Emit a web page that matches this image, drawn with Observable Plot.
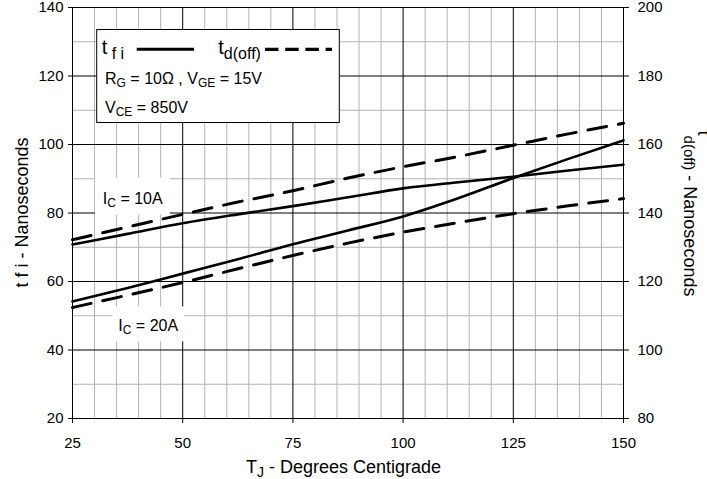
<!DOCTYPE html>
<html>
<head>
<meta charset="utf-8">
<script src="https://cdn.jsdelivr.net/npm/d3@7"></script>
<script src="https://cdn.jsdelivr.net/npm/@observablehq/plot@0.6"></script>
<style>
  html, body { margin: 0; padding: 0; background: #fff; }
  svg text { white-space: pre; }
</style>
</head>
<body>
<div id="chart"></div>
<script>
// ---- data ----
const temps = [25, 37.5, 50, 62.5, 75, 87.5, 100, 112.5, 125, 137.5, 150];
// t_fi (left axis, ns)
const tfi10 = [70.8, 73.9, 77.0, 79.6, 82.0, 84.6, 87.2, 89.0, 90.6, 92.4, 94.1];
const tfi20 = [54.2, 58.1, 62.3, 66.5, 70.9, 74.9, 79.0, 84.3, 90.2, 95.8, 101.2];
// t_d(off) (right axis, ns)
const td10 = [132.2, 135.9, 139.6, 143.2, 146.5, 150.2, 153.5, 156.5, 159.8, 163.1, 166.2];
const td20 = [112.4, 116.0, 119.7, 123.7, 127.6, 131.2, 134.4, 137.2, 139.8, 142.1, 144.2];

const xTicks = [25, 50, 75, 100, 125, 150];
const leftTicks = [20, 40, 60, 80, 100, 120, 140];
const rightTicks = [80, 100, 120, 140, 160, 180, 200];
const rightOffset = 60; // right axis value = left axis value + 60

const xLabel = [{t: "T"}, {t: "J", sub: true}, {t: " - Degrees Centigrade"}];
const yLabelLeft = "t f i - Nanoseconds";
const yLabelRight = [{t: "t"}, {t: "d(off)", sub: true}, {t: " - Nanoseconds", keep: true}];
const legendRow1a = [{t: "t"}, {t: " f i", sub: true}];
const legendRow1b = [{t: "t"}, {t: "d(off)", sub: true}];
const legendRow2 = [{t: "R"}, {t: "G", sub: true}, {t: " = 10Ω , V"}, {t: "GE", sub: true}, {t: " = 15V"}];
const legendRow3 = [{t: "V"}, {t: "CE", sub: true}, {t: " = 850V"}];
const labelIc10 = {T: 32.0, v: 82.6, parts: [{t: "I"}, {t: "C", sub: true}, {t: " = 10A"}]};
const labelIc20 = {T: 35.5, v: 45.3, parts: [{t: "I"}, {t: "C", sub: true}, {t: " = 20A"}]};

// ---- build table ----
const series = [
  {key: "tfi10", values: tfi10, axis: "left"},
  {key: "tfi20", values: tfi20, axis: "left"},
  {key: "td10", values: td10, axis: "right"},
  {key: "td20", values: td20, axis: "right"}
];
const rows = series.flatMap(s => temps.map((T, i) => ({
  T, key: s.key, dashed: s.axis === "right",
  v: s.axis === "left" ? s.values[i] : s.values[i] - rightOffset
})));

const minorX = d3.range(25, 151, 5).filter(d => !xTicks.includes(d));
const minorY = d3.range(20, 141, 10).filter(d => !leftTicks.includes(d));

const FONT = "'Liberation Sans', Arial, Helvetica, sans-serif";

const fig = Plot.plot({
  width: 707,
  height: 479,
  marginLeft: 72,
  marginRight: 84,
  marginTop: 7,
  marginBottom: 61,
  style: {fontFamily: FONT, fontSize: "15px", color: "#000", background: "#fff"},
  x: {domain: [25, 150], axis: null},
  y: {domain: [20, 140], axis: null},
  marks: [
    Plot.ruleX(minorX, {stroke: "#b3b3b3", strokeWidth: 1}),
    Plot.ruleY(minorY, {stroke: "#b3b3b3", strokeWidth: 1}),
    Plot.ruleX(xTicks, {stroke: "#000", strokeWidth: 1}),
    Plot.ruleY(leftTicks, {stroke: "#000", strokeWidth: 1}),
    Plot.line(rows.filter(d => !d.dashed), {x: "T", y: "v", z: "key", stroke: "#000", strokeWidth: 2.6, curve: "monotone-x"}),
    Plot.line(rows.filter(d => d.dashed), {x: "T", y: "v", z: "key", stroke: "#000", strokeWidth: 3, strokeDasharray: "19,12", curve: "monotone-x"}),
    Plot.axisX(xTicks, {anchor: "bottom", tickSize: 5, tickPadding: 14, fontSize: 15, label: null}),
    Plot.axisY(leftTicks, {anchor: "left", tickSize: 4, tickPadding: 5, fontSize: 15, label: null}),
    Plot.axisY(rightTicks.map(d => d - rightOffset), {anchor: "right", tickSize: 5, tickPadding: 9, fontSize: 15, label: null, tickFormat: d => String(d + rightOffset)})
  ]
});

document.getElementById("chart").appendChild(fig);

// ---- annotations positioned through the plot's scales ----
const sx = fig.scale("x"), sy = fig.scale("y");
const X = v => sx.apply(v), Y = v => sy.apply(v);
const x0 = X(25), x1 = X(150), y0 = Y(140), y1 = Y(20);
const svg = d3.select(fig);
const g = svg.append("g").attr("font-family", FONT).attr("fill", "#000").attr("text-anchor", "start");

function rich(parent, parts, size, subSize, shift) {
  const t = parent.append("text").attr("font-size", size).attr("text-anchor", "start");
  let cur = 0;
  for (const p of parts) {
    const s = t.append("tspan").text(p.t);
    const target = p.sub ? shift : (p.keep ? cur : 0);
    if (target !== cur) { s.attr("dy", target - cur); cur = target; }
    s.attr("font-size", p.sub ? subSize : size);
  }
  return t;
}

// legend box
const lb = {x: x0 + 24.7, y: y0 + 22.5, w: 242.6, h: 93};
g.append("rect").attr("x", lb.x).attr("y", lb.y).attr("width", lb.w).attr("height", lb.h)
  .attr("fill", "#fff").attr("stroke", "#000").attr("stroke-width", 1);
rich(g, legendRow1a, 20, 16, 5).attr("x", x0 + 29.7).attr("y", y0 + 46.5);
g.append("line").attr("x1", x0 + 64.7).attr("x2", x0 + 122).attr("y1", y0 + 42.3).attr("y2", y0 + 42.3)
  .attr("stroke", "#000").attr("stroke-width", 3);
rich(g, legendRow1b, 20, 16, 5).attr("x", x0 + 146.3).attr("y", y0 + 46.5);
g.append("line").attr("x1", x0 + 193).attr("x2", x0 + 260).attr("y1", y0 + 42.3).attr("y2", y0 + 42.3)
  .attr("stroke", "#000").attr("stroke-width", 3.2).attr("stroke-dasharray", "13.5,6.7");
rich(g, legendRow2, 16, 12, 3).attr("x", x0 + 33).attr("y", y0 + 76.8);
rich(g, legendRow3, 16, 12, 3).attr("x", x0 + 33).attr("y", y0 + 106);

// I_C labels with white background
for (const [lab, pad] of [[labelIc10, [8, 67, 26, 11]], [labelIc20, [6, 66, 25, 10]]]) {
  const tx = X(lab.T), ty = Y(lab.v);
  g.append("rect").attr("x", tx - pad[0]).attr("y", ty - pad[2]).attr("width", pad[0] + pad[1]).attr("height", pad[2] + pad[3])
    .attr("fill", "#fff");
  rich(g, lab.parts, 16, 12, 3).attr("x", tx).attr("y", ty);
}

// axis titles
rich(g, xLabel, 18, 14, 4).attr("text-anchor", "middle").attr("x", (x0 + x1) / 2 - 4).attr("y", 473);
g.append("text").attr("font-size", 18).attr("text-anchor", "middle")
  .attr("transform", `translate(28,${(y0 + y1) / 2}) rotate(-90)`).text(yLabelLeft);
rich(g, yLabelRight, 18, 15, 14).attr("text-anchor", "middle")
  .attr("transform", `translate(698,${(y0 + y1) / 2 + 1}) rotate(90)`);
</script>
</body>
</html>
